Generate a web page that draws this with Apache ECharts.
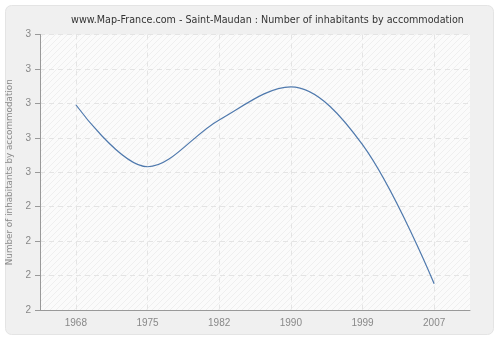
<!DOCTYPE html>
<html><head><meta charset="utf-8">
<script src="https://cdn.jsdelivr.net/npm/echarts@6/dist/echarts.min.js"></script>
<style>html,body{margin:0;padding:0;background:#fff}#c{width:500px;height:340px}</style>
</head><body><div id="c"></div>
<script>
var years = ['1968', '1975', '1982', '1990', '1999', '2007'];
var values = [2.745, 2.52, 2.69, 2.81, 2.60, 2.095];
var yMin = 2, yMax = 3, yStep = 0.125;

var pc = document.createElement('canvas');
pc.width = 6; pc.height = 6;
var g = pc.getContext('2d');
g.fillStyle = '#fbfbfb'; g.fillRect(0, 0, 6, 6);
g.strokeStyle = '#efefef'; g.lineWidth = 1;
g.beginPath();
for (var k = -6; k <= 12; k += 6) { g.moveTo(k, 6); g.lineTo(k + 6, 0); }
g.stroke();

var chart = echarts.init(document.getElementById('c'), null, {renderer: 'canvas'});
chart.setOption({
  animation: false,
  backgroundColor: '#fff',
  graphic: [{type: 'rect', shape: {x: 5.5, y: 5.5, width: 488, height: 329, r: 6}, style: {fill: '#f0f0f0', stroke: '#e4e4e4', lineWidth: 1}, z: -10}],
  title: {text: 'www.Map-France.com - Saint-Maudan : Number of inhabitants by accommodation', left: 262.5, top: 10, textAlign: 'center',
    textStyle: {fontFamily: 'DejaVu Sans', fontSize: 9.6, fontWeight: 'normal', color: '#333'}},
  grid: {left: 40, right: 30, top: 34.5, bottom: 30, show: true, borderWidth: 0, outerBoundsMode: 'none', containLabel: false,
    backgroundColor: {image: pc, repeat: 'repeat'}},
  xAxis: {type: 'category', data: years, boundaryGap: true,
    axisLine: {lineStyle: {color: '#999'}},
    axisTick: {alignWithLabel: true, length: 5, lineStyle: {color: '#999'}},
    axisLabel: {color: '#888', fontFamily: 'Liberation Sans', fontSize: 10, margin: 8},
    splitLine: {show: true, alignWithLabel: true, lineStyle: {color: '#e4e4e4', type: [5, 4]}}},
  yAxis: {type: 'value', min: yMin, max: yMax, interval: yStep,
    name: 'Number of inhabitants by accommodation', nameLocation: 'middle', nameGap: 23.5,
    nameTextStyle: {color: '#888', fontFamily: 'DejaVu Sans', fontSize: 8.8},
    axisLine: {show: true, lineStyle: {color: '#999'}},
    axisTick: {show: true, length: 5, lineStyle: {color: '#999'}},
    axisLabel: {color: '#888', fontFamily: 'Liberation Sans', fontSize: 10, margin: 9, formatter: function (v) { return String(Math.round(v)); }},
    splitLine: {show: true, lineStyle: {color: '#e4e4e4', type: [5, 4]}}},
  series: [{type: 'line', data: values, smooth: 0.35, showSymbol: false, symbol: 'none',
    lineStyle: {color: '#4f79ad', width: 1.2}}]
});
</script></body></html>
